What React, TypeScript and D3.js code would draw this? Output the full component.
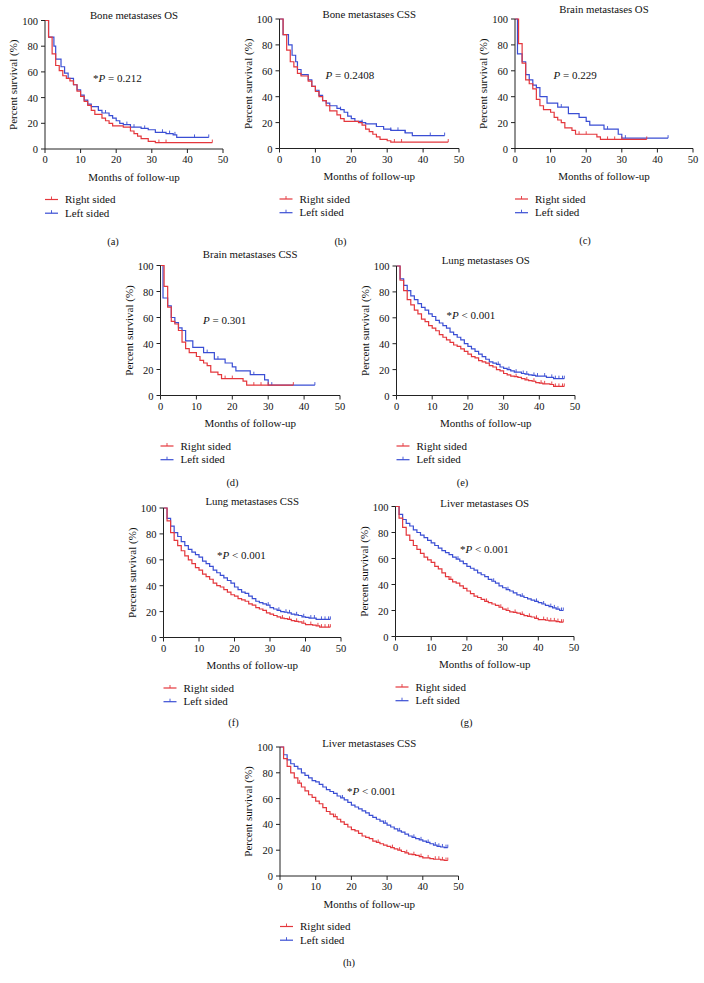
import React from "react";
import * as d3 from "d3";

// ---------- Data ----------
const xTicks = [0, 10, 20, 30, 40, 50];
const yTicks = [0, 20, 40, 60, 80, 100];
const legendLabels = ["Right sided", "Left sided"];
const panelTitles = [
  "Bone metastases OS", "Bone metastases CSS", "Brain metastases OS", "Brain metastases CSS",
  "Lung metastases OS", "Lung metastases CSS", "Liver metastases OS", "Liver metastases CSS",
];
const panelLetters = ["(a)", "(b)", "(c)", "(d)", "(e)", "(f)", "(g)", "(h)"];
const pStars = [true, false, false, false, true, true, true, true];
const pTexts = ["= 0.212", "= 0.2408", "= 0.229", "= 0.301", "< 0.001", "< 0.001", "< 0.001", "< 0.001"];

// (a) Bone OS
const boneOsRightT = [0, 1, 2, 3, 4, 5, 6, 7, 8, 9, 10, 11, 12, 13, 14, 16, 17, 18, 19, 22, 24, 25, 26, 27, 29, 31];
const boneOsRightS = [100, 87, 74, 65, 61, 57, 55, 53, 50, 45, 41, 37, 34, 30, 27, 24, 22, 20, 18, 17, 14, 12, 10, 8, 6, 5];
const boneOsRightCens = [32, 34, 47];
const boneOsLeftT = [0, 1, 2.5, 3, 4.5, 5.5, 6.5, 8, 9, 10, 11, 12, 13, 15, 16, 18, 19, 20, 21, 22, 24, 27, 29, 31, 34, 36, 37];
const boneOsLeftS = [100, 87, 80, 70, 64, 59, 55, 50, 46, 42, 38, 35, 33, 30, 28, 26, 24, 22, 20, 19, 17, 16, 15, 13, 12, 11, 9];
const boneOsLeftCens = [15, 17, 23, 25, 28, 33, 35, 36.5, 42, 46];

// (b) Bone CSS
const boneCssRightT = [0, 1, 2, 3, 4, 5, 6, 8, 9, 10, 11, 12, 13, 14, 16, 17, 18, 22, 23, 24, 25, 26, 27, 28, 30, 31];
const boneCssRightS = [100, 88, 76, 67, 63, 58, 56, 52, 48, 44, 40, 37, 33, 29, 26, 23, 21, 20, 18, 15, 13, 11, 9, 7, 6, 5];
const boneCssRightCens = [32, 34, 47];
const boneCssLeftT = [0, 1, 2.5, 3.5, 4.5, 5, 6, 8, 9, 10, 11, 12, 13, 14, 16, 17, 18, 19, 20, 21, 23, 24, 27, 29, 31, 35, 37];
const boneCssLeftS = [100, 88, 80, 72, 67, 61, 57, 53, 48, 45, 41, 37, 35, 33, 31, 30, 28, 25, 23, 21, 20, 19, 17, 15, 14, 12, 10];
const boneCssLeftCens = [17, 23, 27, 31, 33, 35, 42, 46];

// (c) Brain OS
const brainOsRightT = [0, 1, 2, 3, 4, 5, 6, 7, 8, 10, 11, 12, 13, 14, 16, 17, 23, 24];
const brainOsRightS = [100, 81, 66, 53, 50, 46, 38, 33, 30, 28, 24, 22, 20, 16, 14, 11, 9, 7];
const brainOsRightCens = [18, 20, 26, 28, 30, 37];
const brainOsLeftT = [0, 0.7, 2, 3, 4, 5, 6, 7, 9, 12, 15, 18, 20, 21, 25, 29, 30];
const brainOsLeftS = [100, 73, 67, 57, 53, 49, 47, 40, 35, 32, 27, 24, 21, 18, 15, 11, 8];
const brainOsLeftCens = [13, 26, 31, 43];

// (d) Brain CSS
const brainCssRightT = [0, 1, 2, 3, 4, 5, 6, 7, 8, 10, 11, 12, 13, 14, 16, 17, 23, 24];
const brainCssRightS = [100, 84, 68, 57, 55, 50, 41, 36, 33, 30, 27, 25, 23, 18, 16, 13, 11, 8];
const brainCssRightCens = [18, 20, 26, 28, 30, 37];
const brainCssLeftT = [0, 0.7, 2, 3, 4, 5, 6, 7, 9, 12, 15, 18, 20, 21, 25, 29, 30];
const brainCssLeftS = [100, 75, 69, 60, 56, 52, 50, 42, 37, 33, 28, 25, 22, 19, 16, 12, 8];
const brainCssLeftCens = [13, 16, 26, 31, 43];

// (e) Lung OS – monthly values (month 0..46), curve ends at 47
const lungOsRight = [100, 89, 81, 74, 70, 66, 63, 59, 57, 54, 52, 50, 47, 45, 43, 41, 39, 38, 36, 34, 32, 30, 29, 27, 26, 25, 23, 22, 20, 19, 17, 16, 15, 14.5, 14, 13, 12, 11.5, 11, 10, 9.5, 9, 9, 8.5, 7, 7, 7];
const lungOsLeft = [100, 90, 85, 81, 77, 74, 71, 68, 66, 63, 61, 58, 56, 54, 52, 49, 47, 45, 43, 40, 38, 36, 34, 32, 30, 28, 26, 25, 24, 22, 21, 20, 19, 18, 18, 17, 16.5, 16, 15.5, 15, 15, 15, 14, 14, 13, 13, 13];
const lungOsRightCens = [33.5, 36.5, 38.5, 40.5, 41.5, 43.5, 44.5, 45.5, 46.5, 47];
const lungOsLeftCens = [28.5, 31.5, 33.5, 35.5, 36.5, 38.5, 39.5, 41.5, 43.5, 44.5, 45.5, 46.5, 47];

// (f) Lung CSS
const lungCssRight = [100, 90, 81, 75, 71, 67, 63, 60, 57, 54, 52, 49, 47, 45, 42, 40, 39, 37, 35, 33, 32, 30, 29, 28, 26, 25, 23, 22, 21, 19, 18, 17, 16, 15, 14.5, 14, 13, 12.5, 12, 11, 10, 10, 9.5, 9, 8, 8, 8];
const lungCssLeft = [100, 92, 86, 81, 78, 74, 71, 68, 66, 64, 62, 59, 57, 55, 52, 50, 48, 46, 44, 42, 39, 37, 35, 34, 32, 30, 28, 27, 26, 25, 23, 22, 21, 20, 19.5, 19, 18, 17.5, 17, 16, 15.5, 15, 15, 14, 14, 14, 14];
const lungCssRightCens = [33.5, 35.5, 37.5, 39.5, 41.5, 43.5, 44.5, 45.5, 46.5, 47];
const lungCssLeftCens = [29.5, 32.5, 34.5, 35.5, 37.5, 39.5, 41.5, 42.5, 44.5, 45.5, 46.5, 47];

// (g) Liver OS
const liverOsRight = [100, 91, 84, 78, 74, 70, 67, 64, 61, 59, 57, 54, 52, 49, 46, 44, 42, 41, 39, 37, 35, 33, 31, 30, 28.5, 27, 26, 25, 24, 22.5, 21, 20, 19, 18.5, 18, 17, 16, 15.5, 15, 14, 13, 13, 12.5, 12, 12, 11.5, 11];
const liverOsLeft = [100, 94, 90, 87, 85, 82, 80, 78, 76, 74, 72, 70, 68, 66, 64.5, 63, 61, 59.5, 58, 56, 54, 52.5, 51, 49, 47.5, 46, 44, 42.5, 41, 39, 37.5, 36, 35, 33.5, 32, 31, 30, 29, 28, 27, 26, 25, 24, 23, 22, 21, 20];
const liverOsRightCens = [15.5, 25.5, 29.5, 31.5, 33.5, 35.5, 37.5, 39.5, 41.5, 42.5, 43.5, 44.5, 45.5, 46.5, 47];
const liverOsLeftCens = [17.5, 27.5, 31.5, 35.5, 39.5, 41.5, 43.5, 44.5, 45.5, 46.5, 47];

// (h) Liver CSS
const liverCssRight = [100, 91, 85, 80, 76, 72, 69, 66, 63, 61, 58, 56, 53, 50, 48, 46, 44, 42, 40, 38, 36, 35, 33, 31, 30, 29, 27, 26, 25, 24, 23, 22, 21, 20, 19, 18, 17, 16.5, 16, 15, 14, 14, 13.5, 13, 13, 12.5, 12];
const liverCssLeft = [100, 94, 90, 87, 85, 83, 80, 78, 76, 74, 73, 71, 69, 67, 65.5, 64, 62, 60.5, 59, 57, 55, 53.5, 52, 50.5, 49, 47, 45.5, 44, 42.5, 41, 39.5, 38, 36.5, 35, 34, 32.5, 31, 30, 29, 28, 27, 26, 25, 24, 23, 22.5, 22];
const liverCssRightCens = [5.5, 15.5, 27.5, 31.5, 33.5, 35.5, 37.5, 39.5, 41.5, 43.5, 44.5, 45.5, 46.5, 47];
const liverCssLeftCens = [17.5, 29.5, 33.5, 37.5, 39.5, 41.5, 43.5, 44.5, 45.5, 46.5, 47];

// ---------- Helpers ----------
type Series = { t: number[]; s: number[]; end: number; cens: number[] };
const ser = (t: number[], s: number[], end: number, cens: number[]): Series => ({ t, s, end, cens });
const mon = (vals: number[], cens: number[]): Series => ({ t: vals.map((_, i) => i), s: vals, end: vals.length, cens });

const seriesByPanel: [Series, Series][] = [
  [ser(boneOsRightT, boneOsRightS, 47, boneOsRightCens), ser(boneOsLeftT, boneOsLeftS, 46, boneOsLeftCens)],
  [ser(boneCssRightT, boneCssRightS, 47, boneCssRightCens), ser(boneCssLeftT, boneCssLeftS, 46, boneCssLeftCens)],
  [ser(brainOsRightT, brainOsRightS, 37, brainOsRightCens), ser(brainOsLeftT, brainOsLeftS, 43, brainOsLeftCens)],
  [ser(brainCssRightT, brainCssRightS, 37, brainCssRightCens), ser(brainCssLeftT, brainCssLeftS, 43, brainCssLeftCens)],
  [mon(lungOsRight, lungOsRightCens), mon(lungOsLeft, lungOsLeftCens)],
  [mon(lungCssRight, lungCssRightCens), mon(lungCssLeft, lungCssLeftCens)],
  [mon(liverOsRight, liverOsRightCens), mon(liverOsLeft, liverOsLeftCens)],
  [mon(liverCssRight, liverCssRightCens), mon(liverCssLeft, liverCssLeftCens)],
];

// layout (pixel geometry of each panel)
const layout = [
  { x0: 45, x1: 223, yTop: 20.5, yBot: 149, titleY: 19, pdx: 48, pdy: 82, letterDx: 68, letterY: 244.5 },
  { x0: 279.5, x1: 459, yTop: 19, yBot: 148.5, titleY: 18, pdx: 46, pdy: 79, letterDx: 61, letterY: 244.5 },
  { x0: 515, x1: 693, yTop: 19, yBot: 148.5, titleY: 12.5, pdx: 38.5, pdy: 79, letterDx: 70, letterY: 244 },
  { x0: 160.5, x1: 340, yTop: 265.5, yBot: 395.5, titleY: 257.5, pdx: 42.5, pdy: 323.5, letterDx: 72, letterY: 485.5 },
  { x0: 396.5, x1: 575, yTop: 266, yBot: 395.5, titleY: 264, pdx: 50, pdy: 319, letterDx: 66, letterY: 485.5 },
  { x0: 163.5, x1: 341, yTop: 508, yBot: 637.5, titleY: 504.5, pdx: 53.5, pdy: 559, letterDx: 70, letterY: 725.5 },
  { x0: 395.5, x1: 574, yTop: 506.5, yBot: 636.5, titleY: 506.5, pdx: 64.5, pdy: 552.5, letterDx: 71, letterY: 725.5 },
  { x0: 280, x1: 458.5, yTop: 747, yBot: 876, titleY: 746.5, pdx: 67, pdy: 794.5, letterDx: 69, letterY: 965.5 },
];

const RED = "#e4373c";
const BLUE = "#3a4ed4";
const COLORS = [RED, BLUE];
const FONT = "'Liberation Serif', 'Times New Roman', serif";
const AXIS = "#222";
const TEXT = "#111";

function stepValue(s: Series, time: number) {
  let v = s.s[0];
  for (let i = 0; i < s.t.length; i++) if (s.t[i] <= time) v = s.s[i];
  return v;
}

function Panel({ idx }: { idx: number }) {
  const L = layout[idx];
  const x = d3.scaleLinear().domain([0, 50]).range([L.x0, L.x1]);
  const y = d3.scaleLinear().domain([0, 100]).range([L.yBot, L.yTop]);
  const line = d3
    .line<[number, number]>()
    .x((d) => x(d[0]))
    .y((d) => y(d[1]))
    .curve(d3.curveStepAfter);
  const series = seriesByPanel[idx];
  const midY = (L.yTop + L.yBot) / 2;
  const midX = (L.x0 + L.x1) / 2;
  return (
    <g>
      {[1, 0].map((k) => {
        const s = series[k];
        const pts: [number, number][] = s.t.map((t, i) => [t, s.s[i]] as [number, number]);
        pts.push([s.end, s.s[s.s.length - 1]]);
        return (
          <g key={k}>
            <path d={line(pts) || ""} fill="none" stroke={COLORS[k]} strokeWidth={1.2} />
            {s.cens.map((c, j) => {
              const cx = x(c);
              const cy = y(stepValue(s, c));
              return <line key={j} x1={cx} x2={cx} y1={cy} y2={cy - 3} stroke={COLORS[k]} strokeWidth={0.9} />;
            })}
          </g>
        );
      })}
      <line x1={L.x0} x2={L.x0} y1={L.yTop} y2={L.yBot} stroke={AXIS} strokeWidth={1} />
      <line x1={L.x0} x2={L.x1} y1={L.yBot} y2={L.yBot} stroke={AXIS} strokeWidth={1} />
      {yTicks.map((t) => (
        <g key={"y" + t}>
          <line x1={L.x0 - 4} x2={L.x0} y1={y(t)} y2={y(t)} stroke={AXIS} strokeWidth={1} />
          <text x={L.x0 - 7} y={y(t) + 4} textAnchor="end" fontSize={10.5} fontFamily={FONT} fill={TEXT}>
            {t}
          </text>
        </g>
      ))}
      {xTicks.map((t) => (
        <g key={"x" + t}>
          <line x1={x(t)} x2={x(t)} y1={L.yBot} y2={L.yBot + 4} stroke={AXIS} strokeWidth={1} />
          <text x={x(t)} y={L.yBot + 14} textAnchor="middle" fontSize={10.5} fontFamily={FONT} fill={TEXT}>
            {t}
          </text>
        </g>
      ))}
      <text x={midX} y={L.titleY} textAnchor="middle" fontSize={10.8} fontFamily={FONT} fill={TEXT}>
        {panelTitles[idx]}
      </text>
      <text
        transform={`translate(${L.x0 - 28},${midY}) rotate(-90)`}
        textAnchor="middle"
        fontSize={11}
        fontFamily={FONT}
        fill={TEXT}
      >
        Percent survival (%)
      </text>
      <text x={midX} y={L.yBot + 31.5} textAnchor="middle" fontSize={11} fontFamily={FONT} fill={TEXT}>
        Months of follow-up
      </text>
      <text x={L.x0 + L.pdx} y={L.pdy} fontSize={11} fontFamily={FONT} fill={TEXT}>
        {pStars[idx] ? "*" : ""}
        <tspan fontStyle="italic">P</tspan> {pTexts[idx]}
      </text>
      {legendLabels.map((lab, k) => {
        const ly = L.yBot + 50.5 + k * 13.7;
        return (
          <g key={lab}>
            <line x1={L.x0} x2={L.x0 + 13} y1={ly} y2={ly} stroke={COLORS[k]} strokeWidth={1.2} />
            <line x1={L.x0 + 6.5} x2={L.x0 + 6.5} y1={ly} y2={ly - 3} stroke={COLORS[k]} strokeWidth={0.9} />
            <text x={L.x0 + 20} y={ly + 3.5} fontSize={11} fontFamily={FONT} fill={TEXT}>
              {lab}
            </text>
          </g>
        );
      })}
      <text x={L.x0 + L.letterDx} y={L.letterY} textAnchor="middle" fontSize={10.5} fontFamily={FONT} fill={TEXT}>
        {panelLetters[idx]}
      </text>
    </g>
  );
}

export default function App() {
  return (
    <svg
      width={704}
      height={983}
      viewBox="0 0 704 983"
      style={{ position: "absolute", left: 0, top: 0, background: "#fff" }}
    >
      <rect x={0} y={0} width={704} height={983} fill="#fff" />
      {layout.map((_, i) => (
        <Panel key={i} idx={i} />
      ))}
    </svg>
  );
}
